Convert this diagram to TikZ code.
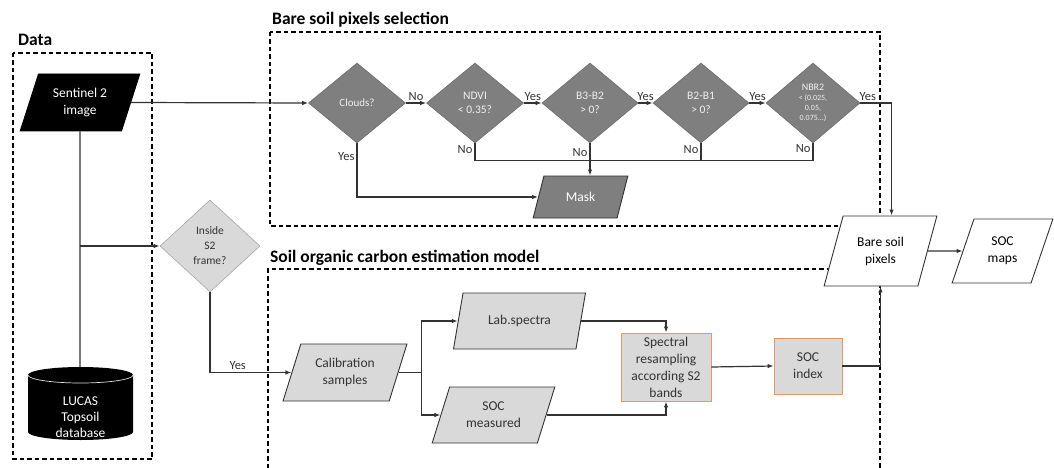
\documentclass[tikz,border=0pt]{standalone}
\usepackage{fontspec}
\setmainfont{Carlito}
\usetikzlibrary{shapes.geometric,arrows.meta}

\definecolor{linegray}{HTML}{333333}
\definecolor{darkfill}{HTML}{7F7F7F}
\definecolor{lightfill}{HTML}{D9D9D9}
\definecolor{boxorange}{HTML}{E59A66}

\tikzset{
  iobox/.style={trapezium, trapezium left angle=68, trapezium right angle=112,
    trapezium stretches=true, draw=linegray, line width=0.9pt, align=center,
    inner sep=1pt, text=linegray, font=\fontsize{13.5}{17}\selectfont},
  decision/.style={diamond, draw=darkfill!85!black, fill=darkfill, line width=0.6pt,
    text=white!88!gray, inner sep=0pt, align=center, font=\fontsize{11.5}{14}\selectfont},
  procbox/.style={rectangle, draw=boxorange, fill=lightfill, line width=0.9pt,
    align=center, inner sep=1pt, text=linegray, font=\fontsize{13.5}{17}\selectfont},
  flow/.style={draw=linegray, line width=1.2pt},
  arrow/.style={flow, -{Latex[length=6pt,width=4.5pt]}},
  lbl/.style={font=\fontsize{12.5}{13}\selectfont, text=linegray, inner sep=2pt},
  region/.style={draw=black, line width=1.1pt, dash pattern=on 4.5pt off 3pt},
  title/.style={font=\bfseries\fontsize{17.5}{19}\selectfont, anchor=west, inner sep=0pt}
}

\begin{document}
\begin{tikzpicture}[x=1pt,y=-1pt]
  \useasboundingbox (0,0) rectangle (1054,468);

  % Regions
  \draw[region] (13,53) rectangle (152,459);
  \draw[region] (270,32) rectangle (880,226);
  \draw[region] (268,468) -- (268,269) -- (880,269) -- (880,468);
  \node[title] (datatitle) at (18,40) {Data};
  \node[title] (baretitle) at (272,20) {Bare soil pixels selection};
  \node[title] (soctitle) at (270,258) {Soil organic carbon estimation model};

  % Data
  \node[iobox, fill=black, draw=black, text=white, minimum width=120pt, minimum height=57pt] (sentinel) at (80,102.5) {Sentinel 2\\image};
  \fill[black] (28,375) -- (28,432) arc[start angle=180, end angle=360, x radius=52.5pt, y radius=8pt]
    -- (133,375) arc[start angle=0, end angle=180, x radius=52.5pt, y radius=8pt] -- cycle;
  \draw[white!75!gray, line width=0.7pt] (28,375) arc[start angle=180, end angle=360, x radius=52.5pt, y radius=8pt];
  \node[text=white, align=center, font=\fontsize{13.5}{16}\selectfont] (lucas) at (80.5,417) {LUCAS\\Topsoil\\database};
  \coordinate (lucastop) at (80,367);

  % Bare soil pixels selection
  \node[decision, minimum width=97pt, minimum height=80pt, font=\fontsize{11}{14}\selectfont] (clouds) at (357,103) {Clouds?};
  \node[decision, minimum width=97pt, minimum height=80pt] (ndvi) at (475,103) {NDVI\\< 0.35?};
  \node[decision, minimum width=96pt, minimum height=80pt] (b32) at (590,103) {B3-B2\\> 0?};
  \node[decision, minimum width=96pt, minimum height=80pt] (b21) at (701,103) {B2-B1\\> 0?};
  \node[decision, minimum width=94pt, minimum height=80pt, font=\fontsize{8}{10}\selectfont] (nbr2) at (813,103)
    {{\fontsize{10}{12}\selectfont NBR2}\\< (0.025,\\0.05,\\0.075...)};
  \node[iobox, fill=darkfill, text=white, minimum width=95pt, minimum height=42pt] (mask) at (580.5,197) {Mask};

  % Inside frame test
  \node[decision, fill=lightfill, draw=gray!70, text=linegray, minimum width=100pt, minimum height=92pt, font=\fontsize{11.5}{15}\selectfont] (inside) at (210,246) {Inside\\S2\\frame?};

  % Soil organic carbon estimation model
  \node[iobox, fill=lightfill, minimum width=124pt, minimum height=57pt] (calib) at (345,372.5) {Calibration\\samples};
  \node[iobox, fill=lightfill, minimum width=133pt, minimum height=56pt] (lab) at (519.5,321) {Lab.spectra};
  \node[iobox, fill=lightfill, minimum width=123pt, minimum height=56pt] (socm) at (493.5,415) {SOC\\measured};
  \node[procbox, minimum width=90pt, minimum height=68pt] (resamp) at (666,367) {Spectral\\resampling\\according S2\\bands};
  \node[procbox, minimum width=68pt, minimum height=56pt] (socidx) at (808,366) {SOC\\index};

  % Outputs
  \node[iobox, fill=white, text=black, minimum width=113pt, minimum height=70pt] (bare) at (880.5,251) {Bare soil\\pixels};
  \node[iobox, fill=white, text=black, minimum width=101pt, minimum height=64pt] (socmaps) at (1002.5,251) {SOC\\maps};

  % Connectors
  \draw[arrow] (sentinel.east) -- (clouds.west);
  \draw[flow] (sentinel.south) -- (lucastop);
  \draw[arrow] (sentinel.south |- inside.west) -- (inside.west);
  \draw[arrow] (clouds.south) |- node[lbl, pos=0.12, left] {Yes} (mask.west);
  \draw[arrow] (clouds.east) -- node[lbl, above] {No} (ndvi.west);
  \draw[arrow] (ndvi.east) -- node[lbl, above] {Yes} (b32.west);
  \draw[arrow] (b32.east) -- node[lbl, above] {Yes} (b21.west);
  \draw[arrow] (b21.east) -- node[lbl, above] {Yes} (nbr2.west);
  \draw[flow] (ndvi.south) -- node[lbl, pos=0.35, left] {No} ++(0,17) coordinate (nobus)
    -| node[lbl, pos=0.85, left] {No} (nbr2.south);
  \draw[flow] (b21.south) -- node[lbl, pos=0.35, left] {No} (b21.south |- nobus);
  \draw[arrow] (b32.south) -- node[lbl, pos=0.3, left] {No} (b32.south |- mask.north);
  \draw[arrow] (nbr2.east) -| node[lbl, pos=0.12, above] {Yes} ([xshift=11pt]bare.north);
  \draw[arrow] (inside.south) |- node[lbl, pos=0.67, above] {Yes} (calib.west);
  \draw[arrow] (calib.east) -- ++(23,0) |- (lab.west);
  \draw[arrow] (calib.east) -- ++(23,0) |- (socm.west);
  \draw[arrow] (lab.east) -| (resamp.north);
  \draw[arrow] (socm.east) -| (resamp.south);
  \draw[arrow] (resamp.east) -- (socidx.west);
  \draw[arrow] (socidx.east) -| (bare.south);
  \draw[arrow] (bare.east) -- (socmaps.west);
\end{tikzpicture}
\end{document}
